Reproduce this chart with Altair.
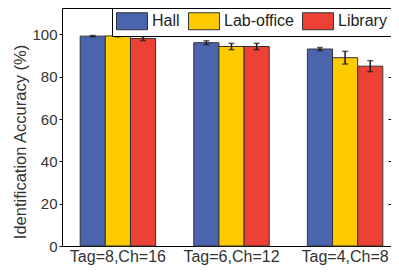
import altair as alt
import pandas as pd

groups = ["Tag=8,Ch=16", "Tag=6,Ch=12", "Tag=4,Ch=8"]
series = ["Hall", "Lab-office", "Library"]
hall = [99.2, 96.1, 93.1]
lab = [99.3, 94.3, 89.0]
lib = [98.1, 94.3, 85.0]
hall_err = [0.3, 0.9, 0.7]
lab_err = [0.4, 1.5, 3.0]
lib_err = [1.0, 1.5, 2.6]
colors = ["#4a64ad", "#fecb00", "#ee4136"]
y_ticks = [0, 20, 40, 60, 80, 100]

rows = []
for s, vals, errs in zip(series, [hall, lab, lib], [hall_err, lab_err, lib_err]):
    for g, v, e in zip(groups, vals, errs):
        rows.append({"group": g, "series": s, "value": v, "lo": v - e, "hi": v + e})
df = pd.DataFrame(rows)

base = alt.Chart(df)

x_main = alt.X("group:N", sort=groups, title=None,
               scale=alt.Scale(paddingInner=0.336, paddingOuter=0.16, range=[0, 339]),
               axis=alt.Axis(orient="bottom", ticks=False, domain=True, domainColor="black",
                             labelFontSize=16, labelColor="#333", labelPadding=2, labelAngle=0))
xoff = alt.XOffset("series:N", sort=series, scale=alt.Scale(paddingInner=0, paddingOuter=0))
y_main = alt.Y("value:Q", scale=alt.Scale(domain=[0, 112.5], nice=False),
               title="Identification Accuracy (%)",
               axis=alt.Axis(orient="left", values=y_ticks, tickSize=3, tickColor="black",
                             domainColor="black", grid=False, labelFontSize=15,
                             labelColor="#333", labelPadding=2, titleFontSize=16.5,
                             titleFontWeight="normal", titleColor="#333",
                             titleX=-37, titleY=133.5, titleBaseline="alphabetic",
                             titleAlign="center"))

bars = base.mark_bar(stroke="#333", strokeWidth=1).encode(
    x=x_main,
    xOffset=xoff,
    y=y_main,
    color=alt.Color("series:N", sort=series,
                    scale=alt.Scale(domain=series, range=colors),
                    legend=alt.Legend(title=None, orient="none", legendX=50, legendY=0,
                                      direction="horizontal", columns=3,
                                      symbolType="M-1,-1H2.647V1H-1Z", symbolSize=289,
                                      symbolStrokeColor="#333", symbolStrokeWidth=1,
                                      symbolOpacity=1, labelOffset=18, columnPadding=6,
                                      labelFontSize=16, labelColor="#222",
                                      strokeColor="black", fillColor="white", padding=4)),
)

rules = base.mark_rule(color="#1a1a1a", strokeWidth=1.5).encode(
    x=alt.X("group:N", sort=groups,
            axis=alt.Axis(orient="top", ticks=False, labels=False, domain=True,
                          domainColor="black", title=None)),
    xOffset=alt.XOffset("series:N", sort=series),
    y=alt.Y("lo:Q", axis=alt.Axis(orient="right", offset=-3, domain=False, labels=False,
                                  tickSize=3, tickColor="black", values=y_ticks,
                                  grid=False, title=None)),
    y2="hi:Q",
)

caps = base.transform_fold(["lo", "hi"], as_=["k", "v"]).mark_tick(
    color="#1a1a1a", thickness=1.5, size=6
).encode(
    x=alt.X("group:N", sort=groups, axis=None),
    xOffset=alt.XOffset("series:N", sort=series),
    y=alt.Y("v:Q", axis=None),
)

chart = alt.layer(bars, rules, caps).resolve_axis(
    x="independent", y="independent"
).properties(
    width=329, height=238,
    autosize=alt.AutoSizeParams(type="none"),
    padding={"left": 54, "top": 0, "right": 0, "bottom": 19},
).configure(font="Liberation Sans").configure_view(stroke=None)

chart.save("out.html", embed_options={"renderer": "svg", "actions": False})
